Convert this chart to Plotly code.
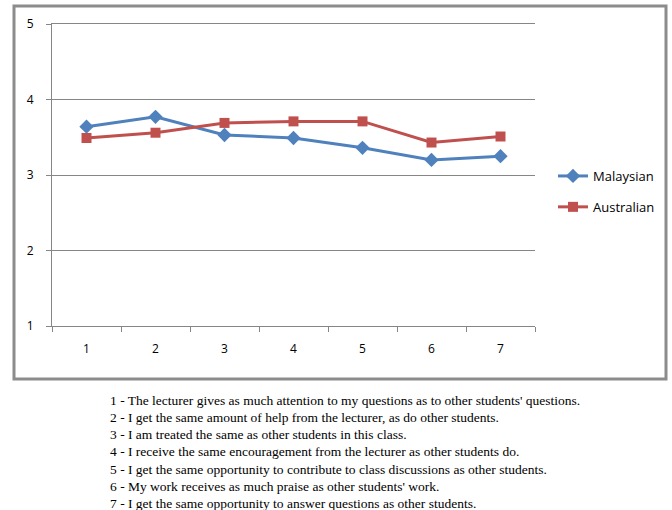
import plotly.graph_objects as go

# Survey items (category axis) and mean ratings per group
items = ["1", "2", "3", "4", "5", "6", "7"]
malaysian = [3.64, 3.77, 3.53, 3.49, 3.36, 3.20, 3.25]
australian = [3.49, 3.56, 3.69, 3.71, 3.71, 3.43, 3.51]
y_ticks = [1, 2, 3, 4, 5]

item_notes = [
    "1 - The lecturer gives as much attention to my questions as to other students' questions.",
    "2 - I get the same amount of help from the lecturer, as do other students.",
    "3 - I am treated the same as other students in this class.",
    "4 - I receive the same encouragement from the lecturer as other students do.",
    "5 - I get the same opportunity to contribute to class discussions as other students.",
    "6 - My work receives as much praise as other students' work.",
    "7 - I get the same opportunity to answer questions as other students.",
]

W, H = 672, 510
L, R, T, B = 52, 535, 24, 326  # plot area in pixels


def px_x(p):
    return (p - L) / (R - L)


def px_y(p):
    return (B - p) / (B - T)


fig = go.Figure()
fig.add_trace(go.Scatter(
    x=items, y=malaysian, name="Malaysian", mode="lines+markers",
    line=dict(color="#4F81BD", width=3),
    marker=dict(symbol="diamond", size=11, color="#4F81BD"),
    legendgroup="m",
))
fig.add_trace(go.Scatter(
    x=items, y=australian, name="Australian", mode="lines+markers",
    line=dict(color="#C0504D", width=3),
    marker=dict(symbol="square", size=10, color="#C0504D"),
    legendgroup="a",
))

# Outer chart frame
fig.add_shape(type="rect", xref="paper", yref="paper",
              x0=px_x(14), x1=px_x(666), y0=px_y(379), y1=px_y(6),
              line=dict(color="#8C8C8C", width=3), layer="below")

# Item descriptions beneath the chart
for i, note in enumerate(item_notes):
    fig.add_annotation(
        text=note, xref="paper", yref="paper",
        x=px_x(108), y=px_y(400 + i * 17.3),
        xanchor="left", yanchor="middle", showarrow=False,
        font=dict(family="Liberation Serif", size=13.5, color="#000000"),
    )

fig.update_layout(
    width=W, height=H,
    margin=dict(l=L, r=W - R, t=T, b=H - B, pad=0),
    paper_bgcolor="white", plot_bgcolor="white",
    font=dict(family="Open Sans", size=12, color="#000000"),
    legend=dict(
        x=px_x(553), y=px_y(161), xanchor="left", yanchor="top",
        font=dict(size=13, color="#000000"),
        tracegroupgap=11, bgcolor="rgba(0,0,0,0)",
    ),
    xaxis=dict(
        type="category", range=[-0.5, 6.5],
        showgrid=False, showline=True, mirror=True,
        linecolor="#868686", linewidth=1,
        ticks="outside", tickson="boundaries", ticklen=5, tickcolor="#868686",
        ticklabelstandoff=12, zeroline=False, fixedrange=True,
    ),
    yaxis=dict(
        range=[1, 5], tickvals=y_ticks,
        showgrid=True, gridcolor="#868686", gridwidth=1,
        showline=True, linecolor="#868686", linewidth=1,
        ticks="outside", ticklen=5, tickcolor="#868686",
        ticklabelstandoff=10, zeroline=False,
    ),
)

fig.write_html("out.html")
